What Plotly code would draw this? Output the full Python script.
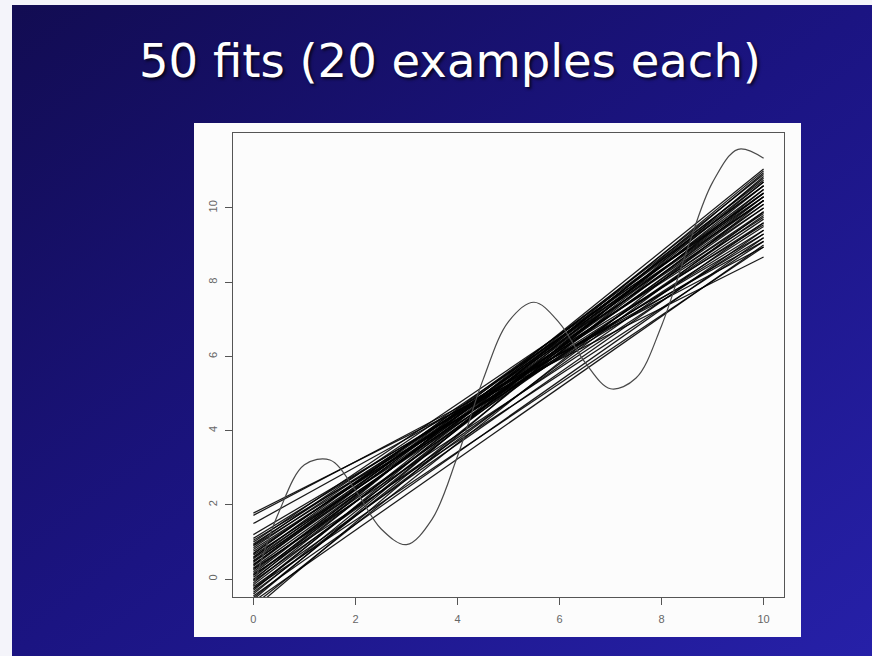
import base64
import plotly.graph_objects as go

# ---- data ----
X_ENDS = [0, 10]
# value of each fitted line at x=0 and at x=10
LINE_Y0 = [1.78, 1.72, 1.50, 1.20, 1.10, 1.05, 0.95, 0.90, 0.85, 0.80,
           0.75, 0.70, 0.65, 0.60, 0.55, 0.50, 0.48, 0.45, 0.40, 0.35,
           0.30, 0.25, 0.20, 0.15, 0.10, 0.05, 0.00, -0.05, -0.10, -0.15,
           -0.20, -0.25, -0.30, -0.35, -0.40, -0.45, -0.50, -0.55, -0.60, -0.70,
           -0.80, 0.92, 1.00, 0.58, 0.28, 0.12, -0.25, 0.68, 0.38, -0.02]
LINE_Y10 = [8.68, 8.95, 9.10, 9.30, 9.55, 9.20, 9.75, 9.40, 10.0, 9.60,
            9.85, 10.2, 9.50, 10.1, 9.90, 10.4, 9.70, 10.3, 10.0, 10.6,
            10.2, 9.80, 10.5, 10.7, 10.1, 10.9, 10.4, 9.60, 10.8, 10.3,
            9.40, 10.6, 11.0, 9.90, 10.7, 9.20, 10.5, 10.95, 9.00, 10.2,
            10.85, 10.2, 10.3, 10.6, 9.30, 9.10, 8.95, 10.4, 10.75, 11.05]
# the one wiggly fit
WIG_X = [0.0, 0.5, 1.0, 1.5, 2.0, 2.5, 3.0, 3.5, 4.0, 4.5, 5.0,
         5.5, 6.0, 6.5, 7.0, 7.5, 8.0, 8.5, 9.0, 9.5, 10.0]
WIG_Y = [-0.18, 1.81, 3.08, 3.21, 2.40, 1.36, 0.93, 1.61, 3.31, 5.37, 6.94,
         7.46, 6.90, 5.84, 5.13, 5.42, 6.83, 8.87, 10.69, 11.58, 11.34]
TICKS = [0, 2, 4, 6, 8, 10]
TITLE = "50 fits (20 examples each)"

W, H = 872, 656
L, R, T, B = 233, 784, 133, 597   # plot-area box in pixels

fig = go.Figure()
for a, b in zip(LINE_Y0, LINE_Y10):
    fig.add_trace(go.Scatter(x=X_ENDS, y=[a, b], mode="lines",
                             line=dict(color="rgba(0,0,0,0.9)", width=1.25),
                             hoverinfo="skip", showlegend=False))
fig.add_trace(go.Scatter(x=WIG_X, y=WIG_Y, mode="lines",
                         line=dict(color="#4a4a4a", width=1.2, shape="spline"),
                         hoverinfo="skip", showlegend=False))

svg = ('<svg xmlns="http://www.w3.org/2000/svg" width="860" height="651" '
       'preserveAspectRatio="none">'
       '<defs><linearGradient id="g" x1="0" y1="0" x2="1" y2="1">'
       '<stop offset="0" stop-color="#120c52"/>'
       '<stop offset="0.5" stop-color="#1b1482"/>'
       '<stop offset="1" stop-color="#2620a8"/>'
       '</linearGradient></defs>'
       '<rect width="860" height="651" fill="url(#g)"/></svg>')
src = "data:image/svg+xml;base64," + base64.b64encode(svg.encode()).decode()


def px(x):
    return (x - L) / (R - L)


def py(y):
    return (B - y) / (B - T)


def pw(w):
    return w / (R - L)


def ph(h):
    return h / (B - T)


fig.update_layout(
    width=W, height=H,
    margin=dict(l=L, r=W - R, t=T, b=H - B),
    paper_bgcolor="#f4f4fa",
    plot_bgcolor="#fbfbfb",
    images=[dict(source=src, xref="paper", yref="paper",
                 x=px(12), y=py(5), sizex=pw(860), sizey=ph(651),
                 xanchor="left", yanchor="top", sizing="stretch",
                 layer="below")],
    shapes=[dict(type="rect", xref="paper", yref="paper",
                 x0=px(194), x1=px(801), y0=py(637), y1=py(123),
                 fillcolor="#fcfcfc", line=dict(width=0), layer="below")],
    annotations=[dict(text=TITLE, xref="paper", yref="paper",
                      x=px(449.5), y=py(61), xanchor="center", yanchor="middle",
                      showarrow=False,
                      font=dict(family="DejaVu Sans", size=46.5, color="white",
                                shadow="2px 2px 3px rgba(0,0,0,0.7)"))],
    xaxis=dict(range=[-0.4, 10.4], tickvals=TICKS, ticks="outside", ticklen=7,
               tickcolor="#555", showline=True, mirror=True, linecolor="#555",
               linewidth=1, showgrid=False, zeroline=False,
               ticklabelstandoff=5,
               tickfont=dict(family="Liberation Sans", size=11, color="#666")),
    yaxis=dict(range=[-0.48, 12.02], tickvals=TICKS, ticks="outside", ticklen=7,
               tickcolor="#555", showline=True, mirror=True, linecolor="#555",
               linewidth=1, showgrid=False, zeroline=False, tickangle=-90,
               ticklabelstandoff=4,
               tickfont=dict(family="Liberation Sans", size=11, color="#666")),
)

fig.write_html("out.html")
